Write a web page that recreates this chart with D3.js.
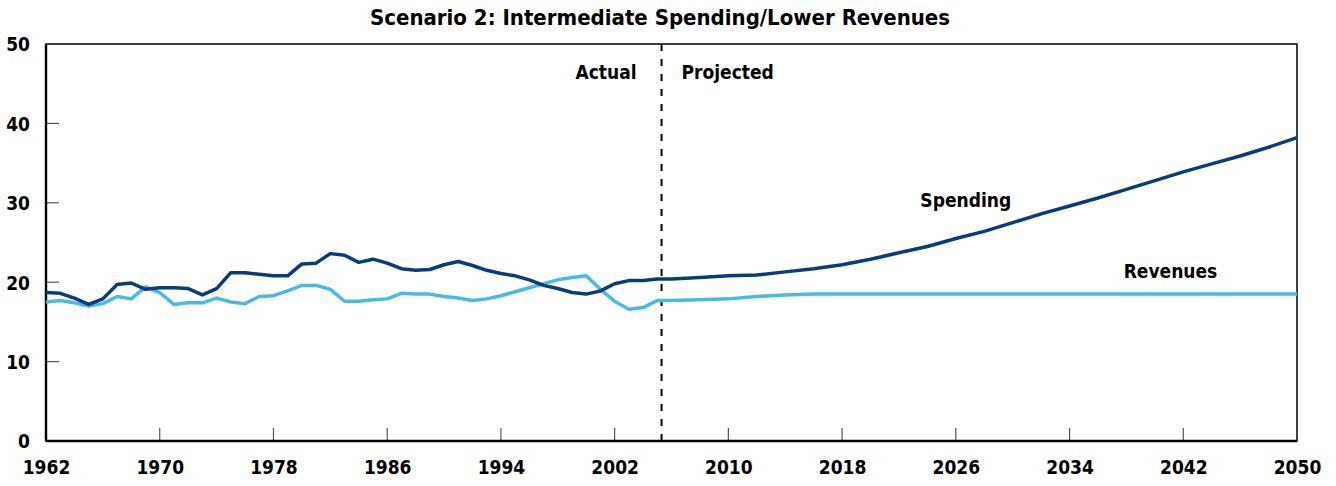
<!DOCTYPE html>
<html>
<head>
<meta charset="utf-8">
<script src="https://cdn.jsdelivr.net/npm/d3@7"></script>
<style>
    html, body { margin: 0; padding: 0; background: #fff; }
    #chart text { font-family: "Liberation Sans Narrow", "DejaVu Sans Condensed", "Roboto Condensed", sans-serif; font-weight: bold; fill: #000; }
</style>
</head>
<body>
<div id="chart"></div>
<script>
// years: annual history, every other year for the projection
const years = [
    1962, 1963, 1964, 1965, 1966, 1967, 1968, 1969, 1970, 1971,
    1972, 1973, 1974, 1975, 1976, 1977, 1978, 1979, 1980, 1981,
    1982, 1983, 1984, 1985, 1986, 1987, 1988, 1989, 1990, 1991,
    1992, 1993, 1994, 1995, 1996, 1997, 1998, 1999, 2000, 2001,
    2002, 2003, 2004, 2005, 2006,
    2008, 2010, 2012, 2014, 2016, 2018, 2020, 2022, 2024, 2026,
    2028, 2030, 2032, 2034, 2036, 2038, 2040, 2042, 2044, 2046,
    2048, 2050
];

const spending = [
    18.7, 18.6, 18.0, 17.2, 17.9, 19.7, 19.9, 19.1, 19.3, 19.3,
    19.2, 18.4, 19.2, 21.2, 21.2, 21.0, 20.8, 20.8, 22.3, 22.4,
    23.6, 23.4, 22.5, 22.9, 22.4, 21.7, 21.5, 21.6, 22.2, 22.6,
    22.1, 21.5, 21.1, 20.8, 20.3, 19.6, 19.2, 18.7, 18.5, 18.9,
    19.8, 20.2, 20.2, 20.4, 20.4,
    20.6, 20.8, 20.9, 21.3, 21.7, 22.2, 22.9, 23.7, 24.5, 25.5,
    26.4, 27.5, 28.6, 29.6, 30.6, 31.7, 32.8, 33.9, 34.9, 35.9,
    37.0, 38.2
];

const revenues = [
    17.5, 17.7, 17.4, 17.0, 17.3, 18.2, 17.9, 19.4, 18.7, 17.2,
    17.4, 17.4, 18.0, 17.5, 17.3, 18.2, 18.3, 18.9, 19.6, 19.6,
    19.1, 17.6, 17.6, 17.8, 17.9, 18.6, 18.5, 18.5, 18.2, 18.0,
    17.7, 17.9, 18.3, 18.8, 19.3, 19.8, 20.3, 20.6, 20.8, 19.1,
    17.6, 16.6, 16.8, 17.7, 17.7,
    17.8, 17.9, 18.2, 18.4, 18.5, 18.5, 18.5, 18.5, 18.5, 18.5,
    18.5, 18.5, 18.5, 18.5, 18.5, 18.5, 18.5, 18.5, 18.5, 18.5,
    18.5, 18.5
];

const xTicks = [1962, 1970, 1978, 1986, 1994, 2002, 2010, 2018, 2026, 2034, 2042, 2050];
const yTicks = [0, 10, 20, 30, 40, 50];
const actualEndYear = 2005.3;
const title = 'Scenario 2: Intermediate Spending/Lower Revenues';

class ScenarioChart {
    constructor(containerId) {
        this.containerId = containerId;
        this.margin = { top: 44, right: 39, bottom: 45, left: 46 };
        this.width = 1336 - this.margin.left - this.margin.right;
        this.height = 486 - this.margin.top - this.margin.bottom;
    }

    init() {
        this.data = years.map((y, i) => ({ year: y, spending: spending[i], revenues: revenues[i] }));

        this.svg = d3.select(`#${this.containerId}`)
            .append('svg')
            .attr('width', 1336)
            .attr('height', 486)
            .append('g')
            .attr('transform', `translate(${this.margin.left},${this.margin.top})`);

        this.xScale = d3.scaleLinear().domain([1962, 2050]).range([0, this.width]);
        this.yScale = d3.scaleLinear().domain([0, 50]).range([this.height, 0]);

        this.drawAxes();
        this.drawLines();
        this.drawLabels();
    }

    drawAxes() {
        // frame
        this.svg.append('rect')
            .attr('width', this.width)
            .attr('height', this.height)
            .attr('fill', 'none')
            .attr('stroke', '#111')
            .attr('stroke-width', 1.6);

        const yAxis = this.svg.append('g')
            .call(d3.axisLeft(this.yScale).tickValues(yTicks).tickSize(0).tickPadding(16));
        yAxis.select('.domain').remove();
        yAxis.selectAll('text').style('font-size', '19px').attr('dy', '0.36em');

        // inner y ticks
        this.svg.selectAll('.ytick')
            .data(yTicks.filter(d => d > 0 && d < 50))
            .enter()
            .append('line')
            .attr('x1', 0).attr('x2', 13)
            .attr('y1', d => this.yScale(d)).attr('y2', d => this.yScale(d))
            .attr('stroke', '#555')
            .attr('stroke-width', 1.2);

        const xAxis = this.svg.append('g')
            .attr('transform', `translate(0,${this.height})`)
            .call(d3.axisBottom(this.xScale).tickValues(xTicks).tickFormat(d3.format('d')).tickSize(0).tickPadding(20));
        xAxis.select('.domain').remove();
        xAxis.selectAll('text').style('font-size', '19px');

        // inner x ticks
        this.svg.selectAll('.xtick')
            .data(xTicks.filter(d => d > 1962 && d < 2050))
            .enter()
            .append('line')
            .attr('x1', d => this.xScale(d)).attr('x2', d => this.xScale(d))
            .attr('y1', this.height).attr('y2', this.height - 13)
            .attr('stroke', '#555')
            .attr('stroke-width', 1.2);

        // heavier left and bottom axis lines
        this.svg.append('line')
            .attr('x1', 0).attr('x2', 0).attr('y1', 0).attr('y2', this.height)
            .attr('stroke', '#000').attr('stroke-width', 2.4);
        this.svg.append('line')
            .attr('x1', 0).attr('x2', this.width).attr('y1', this.height).attr('y2', this.height)
            .attr('stroke', '#000').attr('stroke-width', 2.4);

        this.svg.append('text')
            .attr('x', 614)
            .attr('y', -19)
            .attr('text-anchor', 'middle')
            .style('font-size', '22px')
            .text(title);
    }

    drawLines() {
        const dx = this.xScale(actualEndYear);
        this.svg.append('line')
            .attr('x1', dx).attr('x2', dx)
            .attr('y1', 0).attr('y2', this.height)
            .attr('stroke', '#000')
            .attr('stroke-width', 2)
            .attr('stroke-dasharray', '7,8');

        const series = [
            { key: 'revenues', color: '#45bbe5' },
            { key: 'spending', color: '#0b3b7c' }
        ];

        series.forEach(s => {
            const line = d3.line()
                .x(d => this.xScale(d.year))
                .y(d => this.yScale(d[s.key]));

            this.svg.append('path')
                .datum(this.data)
                .attr('fill', 'none')
                .attr('stroke', s.color)
                .attr('stroke-width', 3.5)
                .attr('stroke-linejoin', 'round')
                .attr('d', line);
        });
    }

    drawLabels() {
        const dx = this.xScale(actualEndYear);
        const labels = [
            { text: 'Actual', x: dx - 25, y: this.yScale(46.4), anchor: 'end' },
            { text: 'Projected', x: dx + 20, y: this.yScale(46.4), anchor: 'start' },
            { text: 'Spending', x: this.xScale(2026.7), y: this.yScale(30.3), anchor: 'middle' },
            { text: 'Revenues', x: this.xScale(2041.1), y: this.yScale(21.4), anchor: 'middle' }
        ];

        this.svg.selectAll('.note')
            .data(labels)
            .enter()
            .append('text')
            .attr('class', 'note')
            .attr('x', d => d.x)
            .attr('y', d => d.y)
            .attr('dy', '0.36em')
            .attr('text-anchor', d => d.anchor)
            .style('font-size', '19px')
            .text(d => d.text);
    }
}

const chart = new ScenarioChart('chart');
chart.init();
</script>
</body>
</html>
